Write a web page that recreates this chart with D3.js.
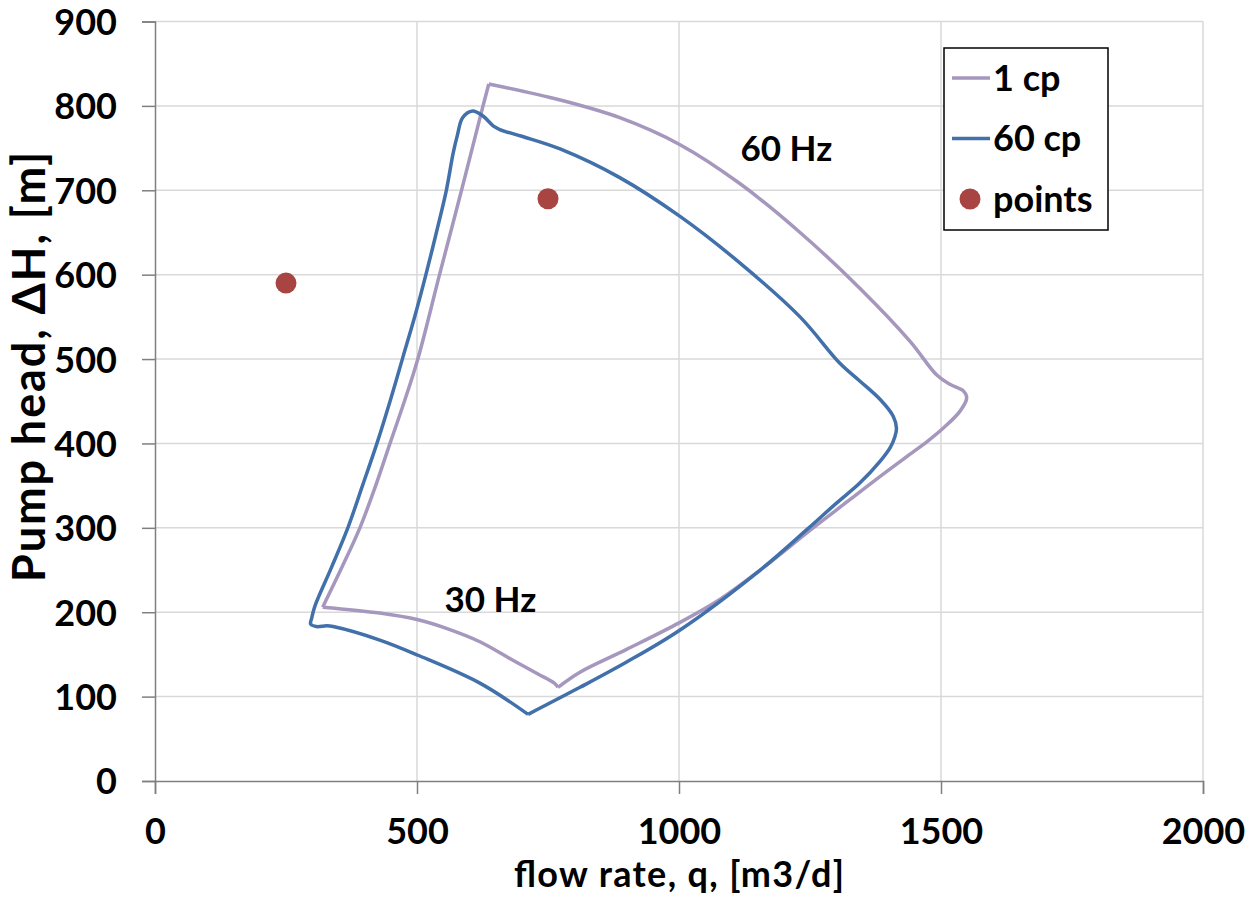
<!DOCTYPE html>
<html>
<head>
<meta charset="utf-8">
<script src="https://cdn.jsdelivr.net/npm/d3@7"></script>
<style>
  body { margin: 0; background: #fff; }
  text { font-family: Lato, "Open Sans", sans-serif; font-weight: bold; fill: #000; }
</style>
</head>
<body>
<script>
// 1 cp operating envelope (closed loop), flow rate [m3/d] and head [m]
const cp1Q = [320, 358, 391, 420, 449, 476, 502, 543, 585, 626, 637,
  773, 887, 1002, 1116, 1231, 1345, 1441, 1492, 1517, 1543, 1549, 1536, 1504, 1473, 1447, 1384, 1321, 1256, 1155, 1080, 1002, 900, 811, 769,
  762, 730, 683, 620, 560, 502, 429, 320];
const cp1H = [206, 255, 300, 348, 401, 450, 501, 600, 700, 800, 826,
  807, 786, 754, 708, 650, 584, 521, 481, 470, 462, 454, 438, 418, 402, 390, 361, 331, 300, 250, 216, 188, 156, 129, 111,
  116, 127, 143, 165, 180, 191, 199, 206];
// indices where the 1 cp line has a sharp corner
const cp1Corners = [10, 34];

// 60 cp operating envelope, starting at the lowest point
const cp60Q = [712, 811, 900, 1002, 1155, 1246, 1300, 1345, 1384, 1403, 1412, 1415,
  1409, 1384, 1345, 1307, 1231, 1116, 1002, 887, 773, 700, 658, 646, 626, 606,
  587, 577, 569, 556, 537, 517, 496, 473, 449, 424, 396, 368, 336, 305, 299, 297,
  308, 328, 340, 429, 502, 620, 712];
const cp60H = [79, 111, 141, 179, 250, 299, 329, 353, 379, 395, 408, 418,
  432, 452, 474, 495, 550, 614, 669, 715, 749, 764, 772, 776, 788, 794,
  786, 765, 744, 700, 650, 600, 551, 502, 451, 401, 350, 300, 252, 207, 193, 186,
  183, 184, 183, 167, 149, 116, 79];
const cp60Corners = [];

// measured points
const ptQ = [250, 750];
const ptH = [590, 690];

const xTicks = [0, 500, 1000, 1500, 2000];
const yTicks = [0, 100, 200, 300, 400, 500, 600, 700, 800, 900];

const seriesNames = ['1 cp', '60 cp', 'points'];
const colors = { '1 cp': '#a597bd', '60 cp': '#4170aa', 'points': '#a84543' };

const width = 1257, height = 913;
const margin = { top: 21.5, right: 54, bottom: 132, left: 155 };

const svg = d3.select('body').append('svg')
  .attr('width', width)
  .attr('height', height);

const x = d3.scaleLinear().domain([0, 2000]).range([margin.left, width - margin.right]);
const y = d3.scaleLinear().domain([0, 900]).range([height - margin.bottom, margin.top]);

// grid
svg.append('g').selectAll('line')
  .data(xTicks.slice(1))
  .join('line')
  .attr('x1', d => x(d)).attr('x2', d => x(d))
  .attr('y1', y(0)).attr('y2', y(900))
  .attr('stroke', '#d9d9d9').attr('stroke-width', 1.5);
svg.append('g').selectAll('line')
  .data(yTicks.slice(1))
  .join('line')
  .attr('x1', x(0)).attr('x2', x(2000))
  .attr('y1', d => y(d)).attr('y2', d => y(d))
  .attr('stroke', '#d9d9d9').attr('stroke-width', 1.5);

// axes
const xAxis = svg.append('g')
  .attr('transform', `translate(0,${y(0)})`)
  .call(d3.axisBottom(x).tickValues(xTicks).tickFormat(d3.format('d')).tickSize(13).tickPadding(24));
const yAxis = svg.append('g')
  .attr('transform', `translate(${x(0)},0)`)
  .call(d3.axisLeft(y).tickValues(yTicks).tickSize(13).tickPadding(25));

[xAxis, yAxis].forEach(a => {
  a.select('.domain').attr('stroke', '#7f7f7f').attr('stroke-width', 1.5);
  a.selectAll('.tick line').attr('stroke', '#7f7f7f').attr('stroke-width', 1.5);
  a.selectAll('.tick text').style('font-size', '36px').attr('fill', '#000');
});
yAxis.selectAll('.tick text').attr('dy', '0.36em');

// curves: smooth between sharp corners
const line = d3.line()
  .x(d => x(d[0]))
  .y(d => y(d[1]))
  .curve(d3.curveCatmullRom.alpha(0.5));

function pathWithCorners(qs, hs, corners) {
  const pts = d3.zip(qs, hs);
  const cuts = [0, ...corners, pts.length - 1];
  let d = '';
  for (let i = 0; i < cuts.length - 1; i++) {
    d += line(pts.slice(cuts[i], cuts[i + 1] + 1));
  }
  return d;
}

const curves = [
  { name: '1 cp', d: pathWithCorners(cp1Q, cp1H, cp1Corners) },
  { name: '60 cp', d: pathWithCorners(cp60Q, cp60H, cp60Corners) }
];

svg.append('g').selectAll('path')
  .data(curves)
  .join('path')
  .attr('d', d => d.d)
  .attr('fill', 'none')
  .attr('stroke', d => colors[d.name])
  .attr('stroke-width', 3.5)
  .attr('stroke-linejoin', 'round');

svg.append('g').selectAll('circle')
  .data(d3.zip(ptQ, ptH))
  .join('circle')
  .attr('cx', d => x(d[0]))
  .attr('cy', d => y(d[1]))
  .attr('r', 10.5)
  .attr('fill', colors.points);

// annotations
svg.append('text').attr('x', x(1205)).attr('y', y(700) - 29)
  .attr('text-anchor', 'middle').style('font-size', '35px').text('60 Hz');
svg.append('text').attr('x', x(640)).attr('y', y(200))
  .attr('text-anchor', 'middle').style('font-size', '35px').text('30 Hz');

// axis titles
svg.append('text')
  .attr('x', x(1000)).attr('y', 887)
  .attr('text-anchor', 'middle').style('font-size', '36px')
  .attr('textLength', 330).attr('lengthAdjust', 'spacing')
  .text('flow rate, q, [m3/d]');
svg.append('text')
  .attr('transform', 'translate(45,367) rotate(-90)')
  .attr('text-anchor', 'middle').style('font-size', '45px')
  .attr('textLength', 430).attr('lengthAdjust', 'spacing')
  .text('Pump head, ΔH, [m]');

// legend
const lg = svg.append('g').attr('transform', 'translate(944,48)');
lg.append('rect').attr('width', 164).attr('height', 182)
  .attr('fill', '#fff').attr('stroke', '#000').attr('stroke-width', 1.5);
const items = lg.selectAll('g.item')
  .data(seriesNames)
  .join('g')
  .attr('transform', (d, i) => `translate(0,${30 + i * 60.5})`);
items.filter(d => d !== 'points').append('line')
  .attr('x1', 8).attr('x2', 46).attr('y1', 0).attr('y2', 0)
  .attr('stroke', d => colors[d]).attr('stroke-width', 3.5);
items.filter(d => d === 'points').append('circle')
  .attr('cx', 26).attr('cy', 0).attr('r', 10.5).attr('fill', d => colors[d]);
items.append('text')
  .attr('x', 49).attr('y', 0).attr('dy', '0.36em')
  .style('font-size', '36px')
  .text(d => d);
</script>
</body>
</html>
